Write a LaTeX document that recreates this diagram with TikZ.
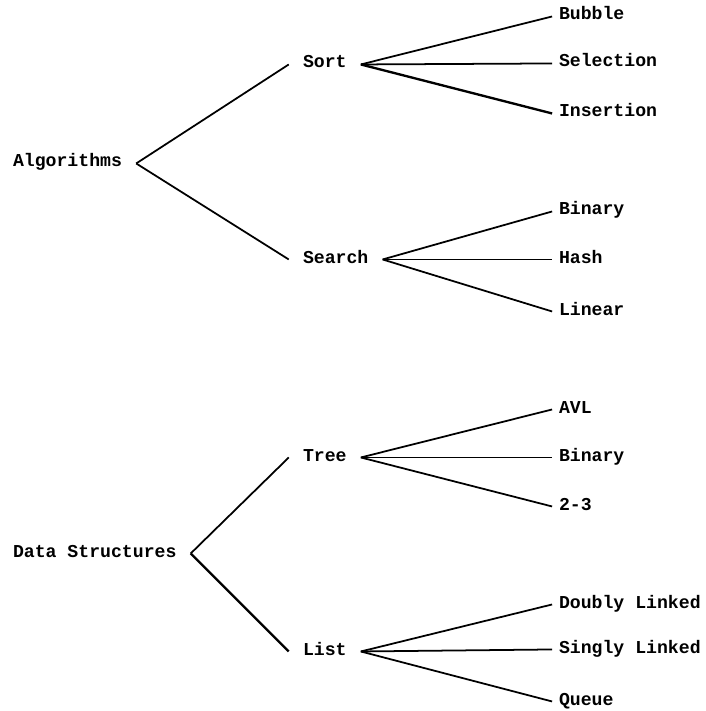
\documentclass[tikz,border=0pt]{standalone}
\usepackage{fontspec}
\setmonofont{Liberation Mono}
\usepackage{tikz}
\usetikzlibrary{positioning}

\begin{document}
\begin{tikzpicture}[x=0.03cm, y=-0.03cm]

% Define styles for the nodes and lines
\tikzstyle{topic} = [anchor=text, inner xsep=0.42cm, inner ysep=1pt, text height=1.6ex, text depth=0.2ex, font=\fontsize{15.5}{18}\selectfont\ttfamily\bfseries]
\tikzstyle{leaf} = [topic, inner xsep=0.2cm]
\tikzstyle{branch} = [line width=1.5pt]

\useasboundingbox (0,0) rectangle (705,711);

% Nodes
\node (algorithms) [topic] at (13,167) {Algorithms};
\node (sort) [topic] at (303,68) {Sort};
\node (search) [topic] at (303,263) {Search};
\node (bubble) [leaf] at (559,20) {Bubble};
\node (selection) [leaf] at (559,67) {Selection};
\node (insertion) [leaf] at (559,117) {Insertion};
\node (bsearch) [leaf] at (559,215) {Binary};
\node (hash) [leaf] at (559,263) {Hash};
\node (linear) [leaf] at (559,315) {Linear};

\node (datastruct) [topic] at (13,557) {Data Structures};
\node (tree) [topic] at (303,461) {Tree};
\node (list) [topic] at (303,655) {List};
\node (avl) [leaf] at (559,413) {AVL};
\node (btree) [leaf] at (559,461) {Binary};
\node (twothree) [leaf] at (559,510) {2-3};
\node (doubly) [leaf] at (559,608) {Doubly Linked};
\node (singly) [leaf] at (559,653) {Singly Linked};
\node (queue) [leaf] at (559,705) {Queue};

% Lines
\draw[branch] (algorithms.east) -- (sort.west);
\draw[branch] (algorithms.east) -- (search.west);
\draw[branch] (sort.east) -- (bubble.west);
\draw[branch] (sort.east) -- (selection.west);
\draw[branch, line width=2pt] (sort.east) -- (insertion.west);
\draw[branch] (search.east) -- (bsearch.west);
\draw[branch] (search.east) -- (hash.west);
\draw[branch] (search.east) -- (linear.west);

\draw[branch] (datastruct.east) -- (tree.west);
\draw[branch, line width=2pt] (datastruct.east) -- (list.west);
\draw[branch] (tree.east) -- (avl.west);
\draw[branch] (tree.east) -- (btree.west);
\draw[branch] (tree.east) -- (twothree.west);
\draw[branch] (list.east) -- (doubly.west);
\draw[branch] (list.east) -- (singly.west);
\draw[branch] (list.east) -- (queue.west);

\end{tikzpicture}
\end{document}
